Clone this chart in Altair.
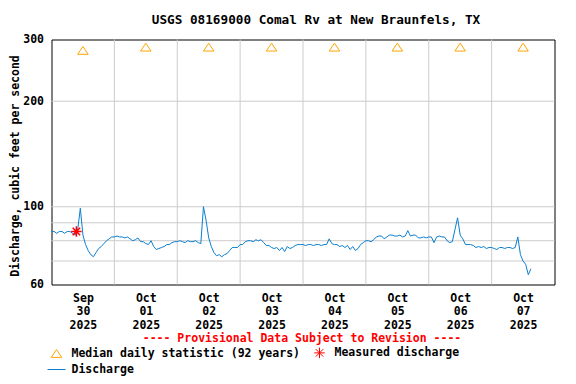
import altair as alt
import pandas as pd

FONT = "DejaVu Sans Mono"

# Discharge (cfs), hourly readings from Sep 30 00:00 onwards
sep30 = [85, 85, 84, 85, 85, 84, 85, 85, 84, 83, 86, 99, 83, 78, 75, 73, 72, 74, 76, 77, 78.5, 80, 81, 82]
oct01 = [82, 82.5, 82, 82, 81.5, 82, 81, 80, 80.5, 81.5, 79.5, 79.5, 78.5, 78, 80, 77, 75.5, 76, 76.5, 77, 78, 78, 79, 79.5]
oct02 = [79.5, 80, 79.5, 79, 80, 79.5, 79.5, 80, 79, 78.5, 100, 91.5, 81.5, 77, 74, 72.5, 73, 72, 73, 73.5, 75, 76.5, 76.5, 76.5]
oct03 = [78, 78, 79.5, 80, 80, 79.5, 80.5, 80, 80.5, 79, 77.5, 77.5, 76.5, 76, 76.5, 75, 76.5, 74.5, 77, 76, 76.5, 77.5, 78, 78]
oct04 = [78, 77.5, 78, 78, 77.5, 78, 78, 77.5, 78, 78, 81, 78.5, 78, 78, 77, 77.5, 76.5, 77.5, 75.5, 77, 75, 76, 78, 79]
oct05 = [80, 80, 79.5, 80.5, 82, 82.5, 82.5, 81, 82, 83, 83, 82.5, 82.5, 83, 82, 82.5, 85.5, 82.5, 83, 83, 81.5, 81.5, 82, 81.5]
oct06 = [82, 82, 79, 82, 82.5, 82, 82, 80, 79, 79.5, 86, 93, 83, 81, 78, 78, 78, 77.5, 76.5, 77, 76.5, 77, 76, 76.5]
oct07 = [76.5, 76, 75.5, 76.5, 76.5, 76, 76.5, 76.5, 76, 76.5, 82, 73, 70, 68.5, 64, 66.5]

median_dates = ["2025-09-30T12:00:00", "2025-10-01T12:00:00", "2025-10-02T12:00:00",
                "2025-10-03T12:00:00", "2025-10-04T12:00:00", "2025-10-05T12:00:00",
                "2025-10-06T12:00:00", "2025-10-07T12:00:00"]
median_values = [279, 285, 285, 285, 285, 285, 285, 285]

measured_times = ["2025-09-30T09:30:00"]
measured_values = [85]

grid_values = [70, 80, 90, 100, 200]
grid_days = ["2025-10-01T00:00:00", "2025-10-02T00:00:00", "2025-10-03T00:00:00",
             "2025-10-04T00:00:00", "2025-10-05T00:00:00", "2025-10-06T00:00:00",
             "2025-10-07T00:00:00"]
y_tick_values = [60, 100, 200, 300]
label_days = [(9, 30), (10, 1), (10, 2), (10, 3), (10, 4), (10, 5), (10, 6), (10, 7)]

SERIES = ["Median daily statistic (92 years)", "Measured discharge", "Discharge"]
COLORS = ["#FFA500", "#FF0000", "#0A7FD0"]
TRI = "M0,-0.55L0.7,0.5L-0.7,0.5Z"
AST = "M-0.7,0L0.7,0M0,-0.7L0,0.7M-0.5,-0.5L0.5,0.5M-0.5,0.5L0.5,-0.5"
LINE = "M-1.2,0L1.2,0"

TITLE = "USGS 08169000 Comal Rv at New Braunfels, TX"
PROVISIONAL = "---- Provisional Data Subject to Revision ----"

discharge = sep30 + oct01 + oct02 + oct03 + oct04 + oct05 + oct06 + oct07
times = pd.date_range("2025-09-30 00:00", periods=len(discharge), freq="h")
line_df = pd.DataFrame({"time": times.strftime("%Y-%m-%dT%H:%M:%S"), "q": discharge, "series": SERIES[2]})
median_df = pd.DataFrame({"time": median_dates, "q": median_values, "series": SERIES[0]})
measured_df = pd.DataFrame({"time": measured_times, "q": measured_values, "series": SERIES[1]})

xscale = alt.Scale(domain=[alt.DateTime(year=2025, month=9, date=30, hours=0),
                           alt.DateTime(year=2025, month=10, date=8, hours=0)])
yscale = alt.Scale(type="log", domain=[60, 300])
color_scale = alt.Scale(domain=SERIES, range=COLORS)
shape_scale = alt.Scale(domain=SERIES, range=[TRI, AST, LINE])

legend = alt.Legend(title=None, orient="none", legendX=-3, legendY=305, columns=2,
                    direction="horizontal", columnPadding=11, rowPadding=1,
                    labelFont=FONT, labelFontSize=11.5, labelLimit=400,
                    labelFontWeight="bold", labelColor="black", symbolSize=225,
                    symbolStrokeWidth=1, labelOffset=7, padding=0)

x_axis = alt.Axis(
    values=[alt.DateTime(year=2025, month=m, date=d, hours=12) for m, d in label_days],
    labelExpr="[timeFormat(datum.value, '%b'), timeFormat(datum.value, '%d'), timeFormat(datum.value, '%Y')]",
    grid=False, ticks=False, domain=False, labelPadding=8, labelLineHeight=13.4,
    labelFont=FONT, labelFontSize=11.5, labelFontWeight="bold", labelColor="black",
    labelOverlap=False, labelFlush=False, title=None)
y_axis = alt.Axis(
    values=y_tick_values, format="d", grid=False, ticks=False, domain=False,
    labelPadding=8, labelFont=FONT, labelFontSize=11.5, labelFontWeight="bold",
    labelColor="black", labelOverlap=False,
    title="Discharge, cubic feet per second", titleFont=FONT, titleFontSize=11.5,
    titleFontWeight="bold", titleColor="black", titleX=-36.5, titleY=126,
    titleBaseline="middle")

hgrid = alt.Chart(pd.DataFrame({"q": grid_values})).mark_rule(
    color="#CCCCCC", strokeWidth=1).encode(y=alt.Y("q:Q", scale=yscale, axis=y_axis))
vgrid = alt.Chart(pd.DataFrame({"time": grid_days})).mark_rule(
    color="#CCCCCC", strokeWidth=1).encode(x=alt.X("time:T", scale=xscale, axis=x_axis))

line = alt.Chart(line_df).mark_line(strokeWidth=1).encode(
    x=alt.X("time:T", scale=xscale, axis=x_axis),
    y=alt.Y("q:Q", scale=yscale, axis=y_axis),
    color=alt.Color("series:N", scale=color_scale, legend=legend))

medians = alt.Chart(median_df).mark_point(filled=False, size=225, strokeWidth=1, opacity=1).encode(
    x=alt.X("time:T", scale=xscale, axis=x_axis),
    y=alt.Y("q:Q", scale=yscale, axis=y_axis),
    color=alt.Color("series:N", scale=color_scale, legend=legend),
    shape=alt.Shape("series:N", scale=shape_scale, legend=legend))

measured = alt.Chart(measured_df).mark_point(filled=False, size=225, strokeWidth=1.5, opacity=1).encode(
    x=alt.X("time:T", scale=xscale, axis=x_axis),
    y=alt.Y("q:Q", scale=yscale, axis=y_axis),
    color=alt.Color("series:N", scale=color_scale, legend=legend),
    shape=alt.Shape("series:N", scale=shape_scale, legend=legend))

prov = alt.Chart(pd.DataFrame({"t": [PROVISIONAL]})).mark_text(
    color="#FF0000", font=FONT, fontSize=11.5, fontWeight="bold",
    align="center", baseline="middle").encode(
    text="t:N", x=alt.value(250.5), y=alt.value(299.5))

title = alt.Chart(pd.DataFrame({"t": [TITLE]})).mark_text(
    color="black", font=FONT, fontSize=12.7, fontWeight="bold",
    align="center", baseline="middle").encode(
    text="t:N", x=alt.value(264.5), y=alt.value(-20))

chart = alt.layer(hgrid, vgrid, line, medians, measured, prov, title).properties(
    width=503, height=245,
    autosize=alt.AutoSizeParams(type="none"),
    padding={"left": 43.5, "top": 31.5, "right": 13.5, "bottom": 91.5},
).configure_view(stroke="black", strokeWidth=1)

chart.save("out.html", embed_options={"renderer": "svg", "actions": False})
